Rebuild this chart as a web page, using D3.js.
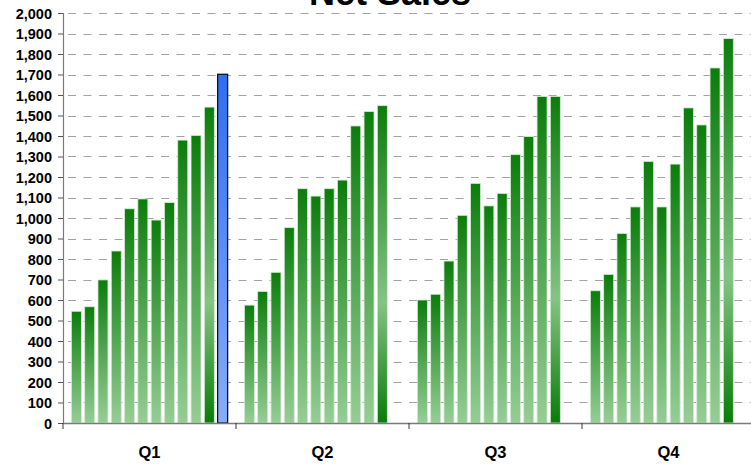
<!DOCTYPE html>
<html>
<head>
<meta charset="utf-8">
<script src="https://cdn.jsdelivr.net/npm/d3@7/dist/d3.min.js"></script>
<style>
  body { margin: 0; background: #fff; }
  svg { display: block; }
  text { font-family: "Liberation Sans", Arial, sans-serif; font-weight: bold; fill: #000; }
</style>
</head>
<body>
<svg id="chart" width="751" height="465"></svg>
<script>
// Net sales per period, grouped by quarter (12 period slots per quarter)
const quarters = ["Q1", "Q2", "Q3", "Q4"];
const periodSlots = d3.range(12);
const q1Sales = [545, 567, 698, 839, 1045, 1093, 990, 1075, 1380, 1403, 1541, 1701];
const q2Sales = [575, 642, 735, 953, 1143, 1107, 1143, 1185, 1449, 1519, 1548];
const q3Sales = [600, 628, 790, 1013, 1169, 1059, 1120, 1309, 1397, 1593, 1593];
const q4Sales = [645, 725, 925, 1054, 1276, 1054, 1263, 1537, 1454, 1732, 1875];
const salesByQuarter = [q1Sales, q2Sales, q3Sales, q4Sales];
const highlighted = { quarter: "Q1", slot: 11 };
const accentSlot = 10;
const yTicks = d3.range(0, 2001, 100);

const svg = d3.select("#chart");
const margin = { left: 63, right: -4, top: 13, bottom: 42 };
const W = 751, H = 465;

const x = d3.scaleBand().domain(quarters).range([margin.left, W - margin.right]);
const xInner = d3.scaleBand().domain(periodSlots).range([0, x.bandwidth()])
  .paddingInner(0.248).paddingOuter(0.63);
const y = d3.scaleLinear().domain([0, 2000]).range([H - margin.bottom, margin.top]);

// Gradients
const defs = svg.append("defs");
function grad(id, stops) {
  const g = defs.append("linearGradient").attr("id", id)
    .attr("x1", 0).attr("y1", 0).attr("x2", 0).attr("y2", 1);
  stops.forEach(([o, c]) => g.append("stop").attr("offset", o).attr("stop-color", c));
}
grad("gGreen", [[0, "#0b7d0b"], [0.55, "#58aa58"], [1, "#96cd96"]]);
grad("gAccent", [[0, "#0b7d0b"], [0.62, "#84c384"], [1, "#087c08"]]);
grad("gBlue", [[0, "#2d6ef2"], [1, "#87adfb"]]);

// Title (sits partly above the drawing area)
svg.append("text")
  .attr("x", 390).attr("y", 5)
  .attr("text-anchor", "middle")
  .style("font-size", "36px")
  .text("Net Sales");

// Gridlines
svg.append("g").selectAll("line").data(yTicks.filter(d => d > 0)).join("line")
  .attr("x1", margin.left + 1).attr("x2", W)
  .attr("y1", d => Math.round(y(d)) + 0.5).attr("y2", d => Math.round(y(d)) + 0.5)
  .attr("stroke", "#a3a3a3").attr("stroke-width", 1)
  .attr("stroke-dasharray", "8,7.5").attr("stroke-dashoffset", -4);

// Bars
const groups = svg.append("g").selectAll("g").data(quarters).join("g")
  .attr("transform", q => `translate(${x(q)},0)`);

const isHighlighted = d => d.q === highlighted.quarter && d.s === highlighted.slot;

groups.selectAll("rect")
  .data((q, i) => salesByQuarter[i].map((v, s) => ({ q, s, v })))
  .join("rect")
  .attr("x", d => xInner(d.s))
  .attr("width", xInner.bandwidth())
  .attr("y", d => y(d.v))
  .attr("height", d => y(0) - y(d.v))
  .attr("fill", d => isHighlighted(d) ? "url(#gBlue)"
    : d.s === accentSlot ? "url(#gAccent)" : "url(#gGreen)")
  .attr("stroke", d => isHighlighted(d) ? "#111" : "#d4ecd4")
  .attr("stroke-width", d => isHighlighted(d) ? 1.3 : 0.8);

// Y axis
const yAxis = svg.append("g")
  .attr("transform", `translate(${margin.left},0)`)
  .call(d3.axisLeft(y).tickValues(yTicks).tickFormat(d3.format(",")).tickSize(5).tickPadding(6));
yAxis.select(".domain").attr("stroke", "#7a7a7a").attr("stroke-width", 1.2);
yAxis.selectAll(".tick line").attr("stroke", "#555");
yAxis.selectAll("text").style("font-size", "14.5px").attr("dy", "0.36em");

// X axis
const xAxis = svg.append("g")
  .attr("transform", `translate(0,${y(0)})`)
  .call(d3.axisBottom(x).tickSize(0).tickPadding(23));
xAxis.select(".domain").attr("stroke", "#7a7a7a").attr("stroke-width", 1.5);
xAxis.selectAll("text").style("font-size", "16.5px");
xAxis.append("g").selectAll("line").data(quarters).join("line")
  .attr("x1", q => x(q)).attr("x2", q => x(q))
  .attr("y1", 0).attr("y2", 6)
  .attr("stroke", "#333");
</script>
</body>
</html>
